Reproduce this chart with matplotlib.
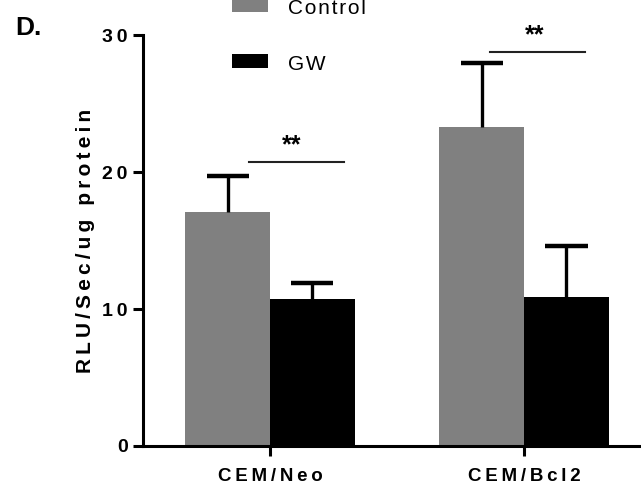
import numpy as np
import matplotlib.pyplot as plt
from matplotlib.patches import Rectangle

plt.rcParams["font.family"] = ["Liberation Sans", "DejaVu Sans"]

# ============================================================
# 数据
# ============================================================
groups = ["CEM/Neo", "CEM/Bcl2"]
series = ["Control", "GW"]
control_mean = [17.1, 23.3]
control_err = [2.6, 4.7]
gw_mean = [10.7, 10.9]
gw_err = [1.2, 3.7]
sig_labels = ["**", "**"]
sig_heights = [20.75, 28.8]

colors = {"Control": "#808080", "GW": "#000000"}

# 显著性线的横向范围（相对组中心）
sig_span = [(-0.083, 0.291), (-0.134, 0.240)]
sig_text_dx = [0.087, 0.043]


def spaced(s, sep="\u2009"):
    # 原图字母间距较宽
    return sep.join(s)


fig = plt.figure(figsize=(6.41, 4.92), dpi=100)
ax = fig.add_axes([0.223, 0.0935, 0.777, 0.835])

x = np.arange(len(groups))
w = 0.333
cap = 0.083
for xs, mean, err, name in [(x - w / 2, control_mean, control_err, "Control"),
                            (x + w / 2, gw_mean, gw_err, "GW")]:
    ax.bar(xs, mean, w, color=colors[name], zorder=2)
    top = np.array(mean) + np.array(err)
    # 误差线（只画上半部分）
    ax.vlines(xs, mean, top, color="black", lw=2.4, zorder=3)
    ax.hlines(top, xs - cap, xs + cap, color="black", lw=3.2, zorder=3)

# 显著性标记
for xi, h, lab, (a, b), dx in zip(x, sig_heights, sig_labels, sig_span, sig_text_dx):
    ax.plot([xi + a, xi + b], [h, h], color="#222222", lw=1.5,
            clip_on=False, zorder=4)
    ax.text(xi + dx, h + 0.35, lab, ha="center", va="bottom",
            fontsize=18, fontweight="bold", clip_on=False)

ax.set_xlim(-0.5, 1.46)
ax.set_ylim(0, 30)
ax.set_yticks([0, 10, 20, 30])
ax.set_yticklabels([spaced(str(v)) for v in [0, 10, 20, 30]],
                   fontsize=14, fontweight="bold")
ax.set_xticks(x)
ax.set_xticklabels([spaced(g) for g in groups], fontsize=13.5, fontweight="bold")
ax.tick_params(axis="both", width=2.2, length=7, direction="out")
ax.tick_params(axis="x", pad=9)
ax.tick_params(axis="y", pad=4)
ax.set_ylabel(spaced("RLU/Sec/ug protein"), fontsize=15, fontweight="bold",
              labelpad=5)

for side in ["top", "right"]:
    ax.spines[side].set_visible(False)
for side in ["left", "bottom"]:
    ax.spines[side].set_linewidth(2.2)

# 图例（手动绘制）
for (y0, name) in [(0.976, "Control"), (0.862, "GW")]:
    fig.add_artist(Rectangle((0.362, y0), 0.056, 0.029, transform=fig.transFigure,
                             facecolor=colors[name], edgecolor="none"))
fig.text(0.449, 0.982, spaced("Control", "\u200a"), fontsize=15, va="center", ha="left")
fig.text(0.449, 0.868, spaced("GW", "\u200a"), fontsize=15, va="center", ha="left")

fig.text(0.024, 0.944, "D.", fontsize=19, fontweight="bold", va="center")

fig.savefig("out.png", dpi=100, facecolor="white")
